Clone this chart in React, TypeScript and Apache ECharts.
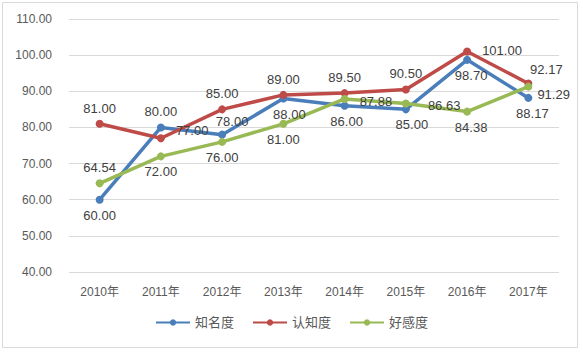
import React, { useEffect, useRef } from "react";
import * as echarts from "echarts";

const years = ["2010年", "2011年", "2012年", "2013年", "2014年", "2015年", "2016年", "2017年"];
const awareness = [60.0, 80.0, 78.0, 88.0, 86.0, 85.0, 98.7, 88.17];
const recognition = [81.0, 77.0, 85.0, 89.0, 89.5, 90.5, 101.0, 92.17];
const favor = [64.54, 72.0, 76.0, 81.0, 87.88, 86.63, 84.38, 91.29];
const seriesNames = ["知名度", "认知度", "好感度"];

const awarenessPos = ["bottom", "top", "top", "bottom", "bottom", "bottom", "bottom", "bottom"];
const recognitionPos = ["top", "right", "top", "top", "top", "top", "right", "top"];
const favorPos = ["top", "bottom", "bottom", "bottom", "right", "right", "bottom", "right"];

const awarenessOff = [[0, 0], [0, 0], [10, 2], [6, 0], [2, 0], [6, 0], [4, 0], [4, 0]];
const recognitionOff = [[0, 0], [6, -8], [0, 0], [0, 0], [0, 0], [0, 0], [6, -1], [18, 2]];
const favorOff = [[0, 0], [0, 0], [0, 0], [0, 0], [6, 3], [13, 2], [4, 0], [0, 8]];

const colors = ["#4A7EBB", "#BE4B48", "#98B954"];
const FONT = "'Liberation Sans', 'Noto Sans CJK SC', sans-serif";

function build(values: number[], pos: string[], off: number[][]) {
  return values.map((v, i) => ({
    value: v,
    label: { position: pos[i], offset: off[i] },
  }));
}

export default function App() {
  const ref = useRef<HTMLDivElement>(null);
  useEffect(() => {
    if (!ref.current) return;
    const chart = echarts.init(ref.current, undefined, { renderer: "svg" });
    const mk = (name: string, data: any[], color: string) => ({
      name,
      type: "line",
      data,
      color,
      symbol: "circle",
      symbolSize: 8,
      lineStyle: { width: 3.5, color },
      itemStyle: { color },
      label: {
        show: true,
        formatter: (p: any) => Number(p.value).toFixed(2),
        fontSize: 13,
        color: "#404040",
        fontFamily: FONT,
        distance: 5,
      },
    });
    chart.setOption({
      animation: false,
      backgroundColor: "#ffffff",
      textStyle: { fontFamily: FONT },
      graphic: [
        {
          type: "rect",
          shape: { x: 2.5, y: 2.5, width: 575, height: 345 },
          style: { fill: "none", stroke: "#D9D9D9", lineWidth: 1 },
          silent: true,
        },
      ],
      grid: { left: 69, right: 24, top: 19, bottom: 80, containLabel: false },
      xAxis: {
        type: "category",
        data: years,
        boundaryGap: true,
        axisLine: { show: false },
        axisTick: { show: false },
        axisLabel: { color: "#595959", fontSize: 12, margin: 14, fontFamily: FONT },
      },
      yAxis: {
        type: "value",
        min: 40,
        max: 110,
        interval: 10,
        axisLine: { show: false },
        axisTick: { show: false },
        splitLine: { lineStyle: { color: "#D9D9D9", width: 1 } },
        axisLabel: {
          color: "#595959",
          fontSize: 12,
          margin: 17,
          fontFamily: FONT,
          formatter: (v: number) => v.toFixed(2),
        },
      },
      legend: {
        bottom: 18,
        left: "center",
        itemWidth: 34,
        itemHeight: 8,
        itemGap: 18,
        textStyle: { color: "#595959", fontSize: 13, fontFamily: FONT },
        data: seriesNames,
      },
      series: [
        mk(seriesNames[0], build(awareness, awarenessPos, awarenessOff), colors[0]),
        mk(seriesNames[1], build(recognition, recognitionPos, recognitionOff), colors[1]),
        mk(seriesNames[2], build(favor, favorPos, favorOff), colors[2]),
      ],
    });
    return () => chart.dispose();
  }, []);
  return (
    <div
      ref={ref}
      style={{ position: "fixed", left: 0, top: 0, width: 583, height: 352, background: "#fff" }}
    />
  );
}
